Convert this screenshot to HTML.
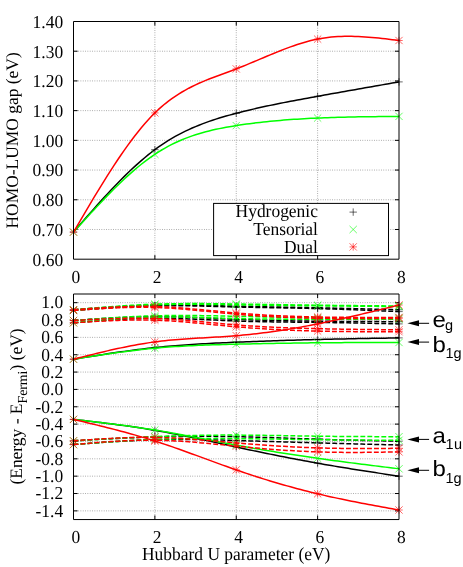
<!DOCTYPE html>
<html><head><meta charset="utf-8"><title>chart</title>
<style>html,body{margin:0;padding:0;background:#fff}body{width:463px;height:567px;overflow:hidden;font-family:"Liberation Serif",serif}.s{font-family:"Liberation Serif",serif;text-rendering:geometricPrecision}.a{font-family:"Liberation Sans",sans-serif;text-rendering:geometricPrecision}</style></head>
<body>
<svg width="463" height="567" viewBox="0 0 463 567" style="display:block">
<rect width="100%" height="100%" fill="#fff"/>
<path d="M154.88 259.20V21.50" stroke="#000" stroke-opacity="0.82" stroke-width="0.5" stroke-dasharray="0.78 1.55" fill="none"/>
<path d="M236.25 259.20V21.50" stroke="#000" stroke-opacity="0.82" stroke-width="0.5" stroke-dasharray="0.78 1.55" fill="none"/>
<path d="M317.62 259.20V21.50" stroke="#000" stroke-opacity="0.82" stroke-width="0.5" stroke-dasharray="0.78 1.55" fill="none"/>
<path d="M73.50 51.21H399.00" stroke="#000" stroke-opacity="0.82" stroke-width="0.5" stroke-dasharray="0.78 1.55" fill="none"/>
<path d="M73.50 80.92H399.00" stroke="#000" stroke-opacity="0.82" stroke-width="0.5" stroke-dasharray="0.78 1.55" fill="none"/>
<path d="M73.50 110.64H399.00" stroke="#000" stroke-opacity="0.82" stroke-width="0.5" stroke-dasharray="0.78 1.55" fill="none"/>
<path d="M73.50 140.35H399.00" stroke="#000" stroke-opacity="0.82" stroke-width="0.5" stroke-dasharray="0.78 1.55" fill="none"/>
<path d="M73.50 170.06H399.00" stroke="#000" stroke-opacity="0.82" stroke-width="0.5" stroke-dasharray="0.78 1.55" fill="none"/>
<path d="M73.50 199.77H399.00" stroke="#000" stroke-opacity="0.82" stroke-width="0.5" stroke-dasharray="0.78 1.55" fill="none"/>
<path d="M73.50 229.49H399.00" stroke="#000" stroke-opacity="0.82" stroke-width="0.5" stroke-dasharray="0.78 1.55" fill="none"/>
<path d="M154.88 259.20v-4.10M154.88 21.50v4.10M236.25 259.20v-4.10M236.25 21.50v4.10M317.62 259.20v-4.10M317.62 21.50v4.10M73.50 51.21h4.10M399.00 51.21h-4.10M73.50 80.92h4.10M399.00 80.92h-4.10M73.50 110.64h4.10M399.00 110.64h-4.10M73.50 140.35h4.10M399.00 140.35h-4.10M73.50 170.06h4.10M399.00 170.06h-4.10M73.50 199.77h4.10M399.00 199.77h-4.10M73.50 229.49h4.10M399.00 229.49h-4.10" stroke="#000" stroke-width="1" fill="none"/>
<path d="M73.50 232.10 L76.89 228.21 L80.28 224.32 L83.67 220.44 L87.06 216.57 L90.45 212.73 L93.84 208.91 L97.23 205.11 L100.62 201.35 L104.02 197.63 L107.41 193.95 L110.80 190.32 L114.19 186.75 L117.58 183.22 L120.97 179.77 L124.36 176.37 L127.75 173.05 L131.14 169.81 L134.53 166.65 L137.92 163.57 L141.31 160.59 L144.70 157.70 L148.09 154.91 L151.48 152.22 L154.88 149.65 L158.27 147.19 L161.66 144.84 L165.05 142.60 L168.44 140.46 L171.83 138.41 L175.22 136.47 L178.61 134.61 L182.00 132.85 L185.39 131.16 L188.78 129.56 L192.17 128.03 L195.56 126.58 L198.95 125.19 L202.34 123.86 L205.73 122.60 L209.12 121.39 L212.52 120.24 L215.91 119.13 L219.30 118.07 L222.69 117.05 L226.08 116.07 L229.47 115.12 L232.86 114.20 L236.25 113.30 L239.64 112.43 L243.03 111.57 L246.42 110.74 L249.81 109.92 L253.20 109.13 L256.59 108.35 L259.98 107.58 L263.38 106.83 L266.77 106.10 L270.16 105.38 L273.55 104.67 L276.94 103.98 L280.33 103.30 L283.72 102.62 L287.11 101.96 L290.50 101.31 L293.89 100.66 L297.28 100.02 L300.67 99.39 L304.06 98.77 L307.45 98.14 L310.84 97.53 L314.23 96.91 L317.62 96.30 L321.02 95.69 L324.41 95.08 L327.80 94.47 L331.19 93.86 L334.58 93.26 L337.97 92.65 L341.36 92.05 L344.75 91.45 L348.14 90.85 L351.53 90.25 L354.92 89.65 L358.31 89.05 L361.70 88.45 L365.09 87.85 L368.48 87.26 L371.88 86.66 L375.27 86.06 L378.66 85.47 L382.05 84.87 L385.44 84.28 L388.83 83.68 L392.22 83.09 L395.61 82.49 L399.00 81.90" stroke="#000" stroke-width="1.50" fill="none" stroke-linejoin="round"/>
<path d="M69.80 232.10H77.20M73.50 228.40V235.80" stroke="#000" stroke-width="0.60" fill="none"/>
<path d="M151.18 149.65H158.57M154.88 145.95V153.35" stroke="#000" stroke-width="0.60" fill="none"/>
<path d="M232.55 113.30H239.95M236.25 109.60V117.00" stroke="#000" stroke-width="0.60" fill="none"/>
<path d="M313.93 96.30H321.32M317.62 92.60V100.00" stroke="#000" stroke-width="0.60" fill="none"/>
<path d="M395.30 81.90H402.70M399.00 78.20V85.60" stroke="#000" stroke-width="0.60" fill="none"/>
<path d="M73.50 232.10 L76.89 228.37 L80.28 224.64 L83.67 220.93 L87.06 217.23 L90.45 213.55 L93.84 209.90 L97.23 206.27 L100.62 202.69 L104.02 199.14 L107.41 195.64 L110.80 192.19 L114.19 188.80 L117.58 185.46 L120.97 182.20 L124.36 179.00 L127.75 175.88 L131.14 172.85 L134.53 169.90 L137.92 167.04 L141.31 164.28 L144.70 161.62 L148.09 159.06 L151.48 156.62 L154.88 154.30 L158.27 152.10 L161.66 150.01 L165.05 148.04 L168.44 146.18 L171.83 144.43 L175.22 142.78 L178.61 141.22 L182.00 139.76 L185.39 138.38 L188.78 137.09 L192.17 135.88 L195.56 134.75 L198.95 133.69 L202.34 132.70 L205.73 131.77 L209.12 130.90 L212.52 130.09 L215.91 129.33 L219.30 128.61 L222.69 127.94 L226.08 127.31 L229.47 126.71 L232.86 126.14 L236.25 125.60 L239.64 125.08 L243.03 124.58 L246.42 124.11 L249.81 123.65 L253.20 123.21 L256.59 122.80 L259.98 122.40 L263.38 122.02 L266.77 121.66 L270.16 121.31 L273.55 120.99 L276.94 120.68 L280.33 120.38 L283.72 120.10 L287.11 119.84 L290.50 119.59 L293.89 119.35 L297.28 119.13 L300.67 118.92 L304.06 118.72 L307.45 118.54 L310.84 118.37 L314.23 118.20 L317.62 118.05 L321.02 117.91 L324.41 117.77 L327.80 117.65 L331.19 117.53 L334.58 117.43 L337.97 117.33 L341.36 117.23 L344.75 117.15 L348.14 117.07 L351.53 117.00 L354.92 116.93 L358.31 116.87 L361.70 116.81 L365.09 116.76 L368.48 116.71 L371.88 116.67 L375.27 116.63 L378.66 116.59 L382.05 116.56 L385.44 116.52 L388.83 116.49 L392.22 116.46 L395.61 116.43 L399.00 116.40" stroke="#00ff00" stroke-width="1.50" fill="none" stroke-linejoin="round"/>
<path d="M69.86 228.46L77.14 235.74M69.86 235.74L77.14 228.46" stroke="#00ff00" stroke-width="0.60" fill="none"/>
<path d="M151.23 150.66L158.52 157.94M151.23 157.94L158.52 150.66" stroke="#00ff00" stroke-width="0.60" fill="none"/>
<path d="M232.61 121.96L239.89 129.24M232.61 129.24L239.89 121.96" stroke="#00ff00" stroke-width="0.60" fill="none"/>
<path d="M313.98 114.41L321.27 121.69M313.98 121.69L321.27 114.41" stroke="#00ff00" stroke-width="0.60" fill="none"/>
<path d="M395.36 112.76L402.64 120.04M395.36 120.04L402.64 112.76" stroke="#00ff00" stroke-width="0.60" fill="none"/>
<path d="M73.50 232.10 L76.89 226.31 L80.28 220.54 L83.67 214.78 L87.06 209.04 L90.45 203.34 L93.84 197.69 L97.23 192.08 L100.62 186.53 L104.02 181.06 L107.41 175.65 L110.80 170.34 L114.19 165.12 L117.58 160.00 L120.97 154.99 L124.36 150.10 L127.75 145.34 L131.14 140.72 L134.53 136.24 L137.92 131.92 L141.31 127.75 L144.70 123.76 L148.09 119.95 L151.48 116.33 L154.88 112.90 L158.27 109.67 L161.66 106.64 L165.05 103.80 L168.44 101.13 L171.83 98.62 L175.22 96.27 L178.61 94.06 L182.00 91.99 L185.39 90.04 L188.78 88.21 L192.17 86.48 L195.56 84.85 L198.95 83.30 L202.34 81.82 L205.73 80.41 L209.12 79.05 L212.52 77.73 L215.91 76.45 L219.30 75.19 L222.69 73.95 L226.08 72.70 L229.47 71.46 L232.86 70.19 L236.25 68.90 L239.64 67.57 L243.03 66.22 L246.42 64.83 L249.81 63.43 L253.20 62.01 L256.59 60.58 L259.98 59.14 L263.38 57.71 L266.77 56.28 L270.16 54.86 L273.55 53.45 L276.94 52.07 L280.33 50.72 L283.72 49.39 L287.11 48.11 L290.50 46.87 L293.89 45.67 L297.28 44.53 L300.67 43.45 L304.06 42.43 L307.45 41.48 L310.84 40.60 L314.23 39.81 L317.62 39.10 L321.02 38.48 L324.41 37.94 L327.80 37.49 L331.19 37.12 L334.58 36.83 L337.97 36.60 L341.36 36.44 L344.75 36.35 L348.14 36.32 L351.53 36.34 L354.92 36.42 L358.31 36.54 L361.70 36.71 L365.09 36.93 L368.48 37.18 L371.88 37.46 L375.27 37.77 L378.66 38.11 L382.05 38.48 L385.44 38.86 L388.83 39.26 L392.22 39.66 L395.61 40.08 L399.00 40.50" stroke="#ff0000" stroke-width="1.50" fill="none" stroke-linejoin="round"/>
<path d="M69.80 232.10H77.20M73.50 228.40V235.80M69.86 228.46L77.14 235.74M69.86 235.74L77.14 228.46" stroke="#ff0000" stroke-width="0.60" fill="none"/>
<path d="M151.18 112.90H158.57M154.88 109.20V116.60M151.23 109.26L158.52 116.54M151.23 116.54L158.52 109.26" stroke="#ff0000" stroke-width="0.60" fill="none"/>
<path d="M232.55 68.90H239.95M236.25 65.20V72.60M232.61 65.26L239.89 72.54M232.61 72.54L239.89 65.26" stroke="#ff0000" stroke-width="0.60" fill="none"/>
<path d="M313.93 39.10H321.32M317.62 35.40V42.80M313.98 35.46L321.27 42.74M313.98 42.74L321.27 35.46" stroke="#ff0000" stroke-width="0.60" fill="none"/>
<path d="M395.30 40.50H402.70M399.00 36.80V44.20M395.36 36.86L402.64 44.14M395.36 44.14L402.64 36.86" stroke="#ff0000" stroke-width="0.60" fill="none"/>
<path d="M73.50 21.50H399.00V259.20H73.50Z" stroke="#000" stroke-width="1" fill="none"/>
<rect x="213.6" y="203.4" width="174.9" height="52.2" fill="#fff" stroke="#000" stroke-width="1"/>
<path d="M349.50 212.10H356.90M353.20 208.40V215.80" stroke="#000" stroke-width="0.60" fill="none"/>
<path d="M349.56 225.86L356.84 233.14M349.56 233.14L356.84 225.86" stroke="#00ff00" stroke-width="0.60" fill="none"/>
<path d="M349.50 246.90H356.90M353.20 243.20V250.60M349.56 243.26L356.84 250.54M349.56 250.54L356.84 243.26" stroke="#ff0000" stroke-width="0.60" fill="none"/>
<path d="M154.88 519.55V294.00" stroke="#000" stroke-opacity="0.82" stroke-width="0.5" stroke-dasharray="0.78 1.55" fill="none"/>
<path d="M236.25 519.55V294.00" stroke="#000" stroke-opacity="0.82" stroke-width="0.5" stroke-dasharray="0.78 1.55" fill="none"/>
<path d="M317.62 519.55V294.00" stroke="#000" stroke-opacity="0.82" stroke-width="0.5" stroke-dasharray="0.78 1.55" fill="none"/>
<path d="M73.50 302.67H399.00" stroke="#000" stroke-opacity="0.82" stroke-width="0.5" stroke-dasharray="0.78 1.55" fill="none"/>
<path d="M73.50 320.02H399.00" stroke="#000" stroke-opacity="0.82" stroke-width="0.5" stroke-dasharray="0.78 1.55" fill="none"/>
<path d="M73.50 337.37H399.00" stroke="#000" stroke-opacity="0.82" stroke-width="0.5" stroke-dasharray="0.78 1.55" fill="none"/>
<path d="M73.50 354.72H399.00" stroke="#000" stroke-opacity="0.82" stroke-width="0.5" stroke-dasharray="0.78 1.55" fill="none"/>
<path d="M73.50 372.07H399.00" stroke="#000" stroke-opacity="0.82" stroke-width="0.5" stroke-dasharray="0.78 1.55" fill="none"/>
<path d="M73.50 389.42H399.00" stroke="#000" stroke-opacity="0.82" stroke-width="0.5" stroke-dasharray="0.78 1.55" fill="none"/>
<path d="M73.50 406.77H399.00" stroke="#000" stroke-opacity="0.82" stroke-width="0.5" stroke-dasharray="0.78 1.55" fill="none"/>
<path d="M73.50 424.12H399.00" stroke="#000" stroke-opacity="0.82" stroke-width="0.5" stroke-dasharray="0.78 1.55" fill="none"/>
<path d="M73.50 441.47H399.00" stroke="#000" stroke-opacity="0.82" stroke-width="0.5" stroke-dasharray="0.78 1.55" fill="none"/>
<path d="M73.50 458.82H399.00" stroke="#000" stroke-opacity="0.82" stroke-width="0.5" stroke-dasharray="0.78 1.55" fill="none"/>
<path d="M73.50 476.17H399.00" stroke="#000" stroke-opacity="0.82" stroke-width="0.5" stroke-dasharray="0.78 1.55" fill="none"/>
<path d="M73.50 493.52H399.00" stroke="#000" stroke-opacity="0.82" stroke-width="0.5" stroke-dasharray="0.78 1.55" fill="none"/>
<path d="M73.50 510.87H399.00" stroke="#000" stroke-opacity="0.82" stroke-width="0.5" stroke-dasharray="0.78 1.55" fill="none"/>
<path d="M154.88 519.55v-4.10M154.88 294.00v4.10M236.25 519.55v-4.10M236.25 294.00v4.10M317.62 519.55v-4.10M317.62 294.00v4.10M73.50 302.67h4.10M399.00 302.67h-4.10M73.50 320.02h4.10M399.00 320.02h-4.10M73.50 337.37h4.10M399.00 337.37h-4.10M73.50 354.72h4.10M399.00 354.72h-4.10M73.50 372.07h4.10M399.00 372.07h-4.10M73.50 389.42h4.10M399.00 389.42h-4.10M73.50 406.77h4.10M399.00 406.77h-4.10M73.50 424.12h4.10M399.00 424.12h-4.10M73.50 441.47h4.10M399.00 441.47h-4.10M73.50 458.82h4.10M399.00 458.82h-4.10M73.50 476.17h4.10M399.00 476.17h-4.10M73.50 493.52h4.10M399.00 493.52h-4.10M73.50 510.87h4.10M399.00 510.87h-4.10" stroke="#000" stroke-width="1" fill="none"/>
<path d="M73.50 359.20 L76.89 358.65 L80.28 358.11 L83.67 357.57 L87.06 357.03 L90.45 356.49 L93.84 355.95 L97.23 355.42 L100.62 354.89 L104.02 354.37 L107.41 353.85 L110.80 353.34 L114.19 352.84 L117.58 352.35 L120.97 351.86 L124.36 351.38 L127.75 350.92 L131.14 350.46 L134.53 350.01 L137.92 349.58 L141.31 349.15 L144.70 348.74 L148.09 348.35 L151.48 347.97 L154.88 347.60 L158.27 347.25 L161.66 346.91 L165.05 346.59 L168.44 346.28 L171.83 345.99 L175.22 345.70 L178.61 345.43 L182.00 345.18 L185.39 344.93 L188.78 344.69 L192.17 344.47 L195.56 344.25 L198.95 344.04 L202.34 343.84 L205.73 343.65 L209.12 343.47 L212.52 343.29 L215.91 343.12 L219.30 342.95 L222.69 342.80 L226.08 342.64 L229.47 342.49 L232.86 342.34 L236.25 342.20 L239.64 342.06 L243.03 341.92 L246.42 341.79 L249.81 341.65 L253.20 341.52 L256.59 341.39 L259.98 341.27 L263.38 341.14 L266.77 341.02 L270.16 340.91 L273.55 340.79 L276.94 340.68 L280.33 340.57 L283.72 340.46 L287.11 340.35 L290.50 340.25 L293.89 340.15 L297.28 340.05 L300.67 339.95 L304.06 339.86 L307.45 339.76 L310.84 339.67 L314.23 339.59 L317.62 339.50 L321.02 339.42 L324.41 339.34 L327.80 339.26 L331.19 339.18 L334.58 339.10 L337.97 339.03 L341.36 338.96 L344.75 338.89 L348.14 338.82 L351.53 338.75 L354.92 338.69 L358.31 338.62 L361.70 338.56 L365.09 338.49 L368.48 338.43 L371.88 338.37 L375.27 338.31 L378.66 338.25 L382.05 338.19 L385.44 338.13 L388.83 338.07 L392.22 338.02 L395.61 337.96 L399.00 337.90" stroke="#000" stroke-width="1.50" fill="none" stroke-linejoin="round"/>
<path d="M69.80 359.20H77.20M73.50 355.50V362.90" stroke="#000" stroke-width="0.60" fill="none"/>
<path d="M151.18 347.60H158.57M154.88 343.90V351.30" stroke="#000" stroke-width="0.60" fill="none"/>
<path d="M232.55 342.20H239.95M236.25 338.50V345.90" stroke="#000" stroke-width="0.60" fill="none"/>
<path d="M313.93 339.50H321.32M317.62 335.80V343.20" stroke="#000" stroke-width="0.60" fill="none"/>
<path d="M395.30 337.90H402.70M399.00 334.20V341.60" stroke="#000" stroke-width="0.60" fill="none"/>
<path d="M73.50 419.40 L76.89 419.79 L80.28 420.18 L83.67 420.57 L87.06 420.97 L90.45 421.37 L93.84 421.77 L97.23 422.17 L100.62 422.58 L104.02 422.99 L107.41 423.41 L110.80 423.84 L114.19 424.28 L117.58 424.72 L120.97 425.17 L124.36 425.63 L127.75 426.10 L131.14 426.58 L134.53 427.07 L137.92 427.58 L141.31 428.09 L144.70 428.62 L148.09 429.17 L151.48 429.73 L154.88 430.30 L158.27 430.89 L161.66 431.49 L165.05 432.11 L168.44 432.75 L171.83 433.39 L175.22 434.05 L178.61 434.72 L182.00 435.40 L185.39 436.08 L188.78 436.78 L192.17 437.49 L195.56 438.20 L198.95 438.92 L202.34 439.64 L205.73 440.37 L209.12 441.10 L212.52 441.84 L215.91 442.57 L219.30 443.31 L222.69 444.05 L226.08 444.79 L229.47 445.53 L232.86 446.27 L236.25 447.00 L239.64 447.73 L243.03 448.46 L246.42 449.18 L249.81 449.90 L253.20 450.62 L256.59 451.33 L259.98 452.03 L263.38 452.73 L266.77 453.43 L270.16 454.12 L273.55 454.81 L276.94 455.49 L280.33 456.17 L283.72 456.84 L287.11 457.50 L290.50 458.16 L293.89 458.82 L297.28 459.46 L300.67 460.10 L304.06 460.74 L307.45 461.36 L310.84 461.98 L314.23 462.59 L317.62 463.20 L321.02 463.80 L324.41 464.39 L327.80 464.97 L331.19 465.55 L334.58 466.12 L337.97 466.69 L341.36 467.25 L344.75 467.80 L348.14 468.35 L351.53 468.89 L354.92 469.43 L358.31 469.97 L361.70 470.50 L365.09 471.03 L368.48 471.56 L371.88 472.08 L375.27 472.60 L378.66 473.12 L382.05 473.63 L385.44 474.15 L388.83 474.66 L392.22 475.18 L395.61 475.69 L399.00 476.20" stroke="#000" stroke-width="1.50" fill="none" stroke-linejoin="round"/>
<path d="M69.80 419.40H77.20M73.50 415.70V423.10" stroke="#000" stroke-width="0.60" fill="none"/>
<path d="M151.18 430.30H158.57M154.88 426.60V434.00" stroke="#000" stroke-width="0.60" fill="none"/>
<path d="M232.55 447.00H239.95M236.25 443.30V450.70" stroke="#000" stroke-width="0.60" fill="none"/>
<path d="M313.93 463.20H321.32M317.62 459.50V466.90" stroke="#000" stroke-width="0.60" fill="none"/>
<path d="M395.30 476.20H402.70M399.00 472.50V479.90" stroke="#000" stroke-width="0.60" fill="none"/>
<path d="M73.50 309.70 L76.89 309.45 L80.28 309.21 L83.67 308.96 L87.06 308.72 L90.45 308.48 L93.84 308.24 L97.23 308.00 L100.62 307.77 L104.02 307.55 L107.41 307.33 L110.80 307.12 L114.19 306.91 L117.58 306.71 L120.97 306.52 L124.36 306.34 L127.75 306.17 L131.14 306.01 L134.53 305.85 L137.92 305.71 L141.31 305.58 L144.70 305.47 L148.09 305.36 L151.48 305.28 L154.88 305.20 L158.27 305.14 L161.66 305.09 L165.05 305.06 L168.44 305.04 L171.83 305.03 L175.22 305.04 L178.61 305.05 L182.00 305.07 L185.39 305.11 L188.78 305.15 L192.17 305.20 L195.56 305.25 L198.95 305.32 L202.34 305.38 L205.73 305.46 L209.12 305.53 L212.52 305.61 L215.91 305.70 L219.30 305.78 L222.69 305.86 L226.08 305.95 L229.47 306.03 L232.86 306.12 L236.25 306.20 L239.64 306.28 L243.03 306.36 L246.42 306.43 L249.81 306.50 L253.20 306.57 L256.59 306.64 L259.98 306.71 L263.38 306.78 L266.77 306.84 L270.16 306.91 L273.55 306.97 L276.94 307.03 L280.33 307.09 L283.72 307.16 L287.11 307.22 L290.50 307.28 L293.89 307.34 L297.28 307.41 L300.67 307.47 L304.06 307.53 L307.45 307.60 L310.84 307.66 L314.23 307.73 L317.62 307.80 L321.02 307.87 L324.41 307.94 L327.80 308.02 L331.19 308.09 L334.58 308.17 L337.97 308.25 L341.36 308.33 L344.75 308.41 L348.14 308.49 L351.53 308.57 L354.92 308.65 L358.31 308.74 L361.70 308.82 L365.09 308.91 L368.48 309.00 L371.88 309.09 L375.27 309.17 L378.66 309.26 L382.05 309.35 L385.44 309.44 L388.83 309.53 L392.22 309.62 L395.61 309.71 L399.00 309.80" stroke="#000" stroke-width="1.50" fill="none" stroke-dasharray="4.9 2.1"/>
<path d="M69.80 309.70H77.20M73.50 306.00V313.40" stroke="#000" stroke-width="0.60" fill="none"/>
<path d="M151.18 305.20H158.57M154.88 301.50V308.90" stroke="#000" stroke-width="0.60" fill="none"/>
<path d="M232.55 306.20H239.95M236.25 302.50V309.90" stroke="#000" stroke-width="0.60" fill="none"/>
<path d="M313.93 307.80H321.32M317.62 304.10V311.50" stroke="#000" stroke-width="0.60" fill="none"/>
<path d="M395.30 309.80H402.70M399.00 306.10V313.50" stroke="#000" stroke-width="0.60" fill="none"/>
<path d="M73.50 310.50 L76.89 310.24 L80.28 309.98 L83.67 309.72 L87.06 309.46 L90.45 309.21 L93.84 308.96 L97.23 308.71 L100.62 308.47 L104.02 308.23 L107.41 308.00 L110.80 307.77 L114.19 307.56 L117.58 307.35 L120.97 307.15 L124.36 306.96 L127.75 306.78 L131.14 306.61 L134.53 306.46 L137.92 306.31 L141.31 306.18 L144.70 306.06 L148.09 305.96 L151.48 305.87 L154.88 305.80 L158.27 305.74 L161.66 305.70 L165.05 305.68 L168.44 305.66 L171.83 305.67 L175.22 305.68 L178.61 305.70 L182.00 305.74 L185.39 305.78 L188.78 305.83 L192.17 305.89 L195.56 305.96 L198.95 306.03 L202.34 306.11 L205.73 306.20 L209.12 306.28 L212.52 306.37 L215.91 306.46 L219.30 306.56 L222.69 306.65 L226.08 306.74 L229.47 306.83 L232.86 306.92 L236.25 307.00 L239.64 307.08 L243.03 307.16 L246.42 307.23 L249.81 307.30 L253.20 307.36 L256.59 307.43 L259.98 307.49 L263.38 307.55 L266.77 307.61 L270.16 307.67 L273.55 307.73 L276.94 307.78 L280.33 307.84 L283.72 307.90 L287.11 307.96 L290.50 308.02 L293.89 308.08 L297.28 308.15 L300.67 308.21 L304.06 308.28 L307.45 308.36 L310.84 308.43 L314.23 308.51 L317.62 308.60 L321.02 308.69 L324.41 308.78 L327.80 308.88 L331.19 308.98 L334.58 309.09 L337.97 309.20 L341.36 309.32 L344.75 309.43 L348.14 309.55 L351.53 309.68 L354.92 309.80 L358.31 309.93 L361.70 310.06 L365.09 310.19 L368.48 310.33 L371.88 310.47 L375.27 310.60 L378.66 310.74 L382.05 310.88 L385.44 311.03 L388.83 311.17 L392.22 311.31 L395.61 311.46 L399.00 311.60" stroke="#000" stroke-width="1.50" fill="none" stroke-dasharray="4.9 2.1"/>
<path d="M69.80 310.50H77.20M73.50 306.80V314.20" stroke="#000" stroke-width="0.60" fill="none"/>
<path d="M151.18 305.80H158.57M154.88 302.10V309.50" stroke="#000" stroke-width="0.60" fill="none"/>
<path d="M232.55 307.00H239.95M236.25 303.30V310.70" stroke="#000" stroke-width="0.60" fill="none"/>
<path d="M313.93 308.60H321.32M317.62 304.90V312.30" stroke="#000" stroke-width="0.60" fill="none"/>
<path d="M395.30 311.60H402.70M399.00 307.90V315.30" stroke="#000" stroke-width="0.60" fill="none"/>
<path d="M73.50 320.50 L76.89 320.26 L80.28 320.03 L83.67 319.79 L87.06 319.56 L90.45 319.33 L93.84 319.10 L97.23 318.88 L100.62 318.67 L104.02 318.46 L107.41 318.26 L110.80 318.06 L114.19 317.88 L117.58 317.70 L120.97 317.53 L124.36 317.38 L127.75 317.23 L131.14 317.10 L134.53 316.98 L137.92 316.88 L141.31 316.79 L144.70 316.72 L148.09 316.66 L151.48 316.62 L154.88 316.60 L158.27 316.60 L161.66 316.61 L165.05 316.64 L168.44 316.69 L171.83 316.75 L175.22 316.83 L178.61 316.91 L182.00 317.01 L185.39 317.12 L188.78 317.24 L192.17 317.37 L195.56 317.50 L198.95 317.64 L202.34 317.79 L205.73 317.94 L209.12 318.09 L212.52 318.24 L215.91 318.40 L219.30 318.56 L222.69 318.71 L226.08 318.86 L229.47 319.01 L232.86 319.16 L236.25 319.30 L239.64 319.43 L243.03 319.56 L246.42 319.69 L249.81 319.80 L253.20 319.91 L256.59 320.02 L259.98 320.12 L263.38 320.21 L266.77 320.31 L270.16 320.39 L273.55 320.47 L276.94 320.55 L280.33 320.62 L283.72 320.69 L287.11 320.76 L290.50 320.82 L293.89 320.88 L297.28 320.93 L300.67 320.98 L304.06 321.03 L307.45 321.08 L310.84 321.12 L314.23 321.16 L317.62 321.20 L321.02 321.24 L324.41 321.27 L327.80 321.30 L331.19 321.33 L334.58 321.36 L337.97 321.39 L341.36 321.42 L344.75 321.44 L348.14 321.46 L351.53 321.49 L354.92 321.51 L358.31 321.52 L361.70 321.54 L365.09 321.56 L368.48 321.58 L371.88 321.59 L375.27 321.61 L378.66 321.62 L382.05 321.64 L385.44 321.65 L388.83 321.66 L392.22 321.67 L395.61 321.69 L399.00 321.70" stroke="#000" stroke-width="1.50" fill="none" stroke-dasharray="4.9 2.1"/>
<path d="M69.80 320.50H77.20M73.50 316.80V324.20" stroke="#000" stroke-width="0.60" fill="none"/>
<path d="M151.18 316.60H158.57M154.88 312.90V320.30" stroke="#000" stroke-width="0.60" fill="none"/>
<path d="M232.55 319.30H239.95M236.25 315.60V323.00" stroke="#000" stroke-width="0.60" fill="none"/>
<path d="M313.93 321.20H321.32M317.62 317.50V324.90" stroke="#000" stroke-width="0.60" fill="none"/>
<path d="M395.30 321.70H402.70M399.00 318.00V325.40" stroke="#000" stroke-width="0.60" fill="none"/>
<path d="M73.50 322.80 L76.89 322.52 L80.28 322.24 L83.67 321.97 L87.06 321.70 L90.45 321.43 L93.84 321.16 L97.23 320.90 L100.62 320.65 L104.02 320.40 L107.41 320.17 L110.80 319.94 L114.19 319.72 L117.58 319.51 L120.97 319.31 L124.36 319.13 L127.75 318.96 L131.14 318.81 L134.53 318.67 L137.92 318.54 L141.31 318.44 L144.70 318.35 L148.09 318.28 L151.48 318.23 L154.88 318.20 L158.27 318.19 L161.66 318.21 L165.05 318.24 L168.44 318.29 L171.83 318.35 L175.22 318.44 L178.61 318.53 L182.00 318.64 L185.39 318.76 L188.78 318.89 L192.17 319.02 L195.56 319.17 L198.95 319.32 L202.34 319.48 L205.73 319.63 L209.12 319.80 L212.52 319.96 L215.91 320.12 L219.30 320.28 L222.69 320.43 L226.08 320.59 L229.47 320.73 L232.86 320.87 L236.25 321.00 L239.64 321.12 L243.03 321.23 L246.42 321.34 L249.81 321.43 L253.20 321.52 L256.59 321.60 L259.98 321.67 L263.38 321.74 L266.77 321.80 L270.16 321.85 L273.55 321.91 L276.94 321.95 L280.33 322.00 L283.72 322.04 L287.11 322.08 L290.50 322.11 L293.89 322.15 L297.28 322.18 L300.67 322.22 L304.06 322.25 L307.45 322.29 L310.84 322.32 L314.23 322.36 L317.62 322.40 L321.02 322.44 L324.41 322.49 L327.80 322.53 L331.19 322.58 L334.58 322.64 L337.97 322.69 L341.36 322.75 L344.75 322.80 L348.14 322.86 L351.53 322.93 L354.92 322.99 L358.31 323.05 L361.70 323.12 L365.09 323.19 L368.48 323.25 L371.88 323.32 L375.27 323.39 L378.66 323.46 L382.05 323.54 L385.44 323.61 L388.83 323.68 L392.22 323.75 L395.61 323.83 L399.00 323.90" stroke="#000" stroke-width="1.50" fill="none" stroke-dasharray="4.9 2.1"/>
<path d="M69.80 322.80H77.20M73.50 319.10V326.50" stroke="#000" stroke-width="0.60" fill="none"/>
<path d="M151.18 318.20H158.57M154.88 314.50V321.90" stroke="#000" stroke-width="0.60" fill="none"/>
<path d="M232.55 321.00H239.95M236.25 317.30V324.70" stroke="#000" stroke-width="0.60" fill="none"/>
<path d="M313.93 322.40H321.32M317.62 318.70V326.10" stroke="#000" stroke-width="0.60" fill="none"/>
<path d="M395.30 323.90H402.70M399.00 320.20V327.60" stroke="#000" stroke-width="0.60" fill="none"/>
<path d="M73.50 440.80 L76.89 440.60 L80.28 440.41 L83.67 440.22 L87.06 440.02 L90.45 439.83 L93.84 439.64 L97.23 439.45 L100.62 439.27 L104.02 439.08 L107.41 438.90 L110.80 438.73 L114.19 438.55 L117.58 438.39 L120.97 438.22 L124.36 438.06 L127.75 437.91 L131.14 437.76 L134.53 437.62 L137.92 437.48 L141.31 437.35 L144.70 437.23 L148.09 437.11 L151.48 437.00 L154.88 436.90 L158.27 436.81 L161.66 436.72 L165.05 436.65 L168.44 436.58 L171.83 436.52 L175.22 436.46 L178.61 436.42 L182.00 436.38 L185.39 436.35 L188.78 436.33 L192.17 436.31 L195.56 436.30 L198.95 436.30 L202.34 436.30 L205.73 436.31 L209.12 436.33 L212.52 436.36 L215.91 436.39 L219.30 436.42 L222.69 436.47 L226.08 436.52 L229.47 436.57 L232.86 436.63 L236.25 436.70 L239.64 436.77 L243.03 436.85 L246.42 436.93 L249.81 437.02 L253.20 437.11 L256.59 437.21 L259.98 437.31 L263.38 437.41 L266.77 437.51 L270.16 437.62 L273.55 437.73 L276.94 437.84 L280.33 437.96 L283.72 438.07 L287.11 438.19 L290.50 438.30 L293.89 438.42 L297.28 438.53 L300.67 438.65 L304.06 438.76 L307.45 438.87 L310.84 438.98 L314.23 439.09 L317.62 439.20 L321.02 439.30 L324.41 439.40 L327.80 439.50 L331.19 439.60 L334.58 439.69 L337.97 439.79 L341.36 439.88 L344.75 439.96 L348.14 440.05 L351.53 440.13 L354.92 440.22 L358.31 440.30 L361.70 440.38 L365.09 440.46 L368.48 440.53 L371.88 440.61 L375.27 440.69 L378.66 440.76 L382.05 440.84 L385.44 440.91 L388.83 440.98 L392.22 441.05 L395.61 441.13 L399.00 441.20" stroke="#000" stroke-width="1.50" fill="none" stroke-dasharray="4.9 2.1"/>
<path d="M69.80 440.80H77.20M73.50 437.10V444.50" stroke="#000" stroke-width="0.60" fill="none"/>
<path d="M151.18 436.90H158.57M154.88 433.20V440.60" stroke="#000" stroke-width="0.60" fill="none"/>
<path d="M232.55 436.70H239.95M236.25 433.00V440.40" stroke="#000" stroke-width="0.60" fill="none"/>
<path d="M313.93 439.20H321.32M317.62 435.50V442.90" stroke="#000" stroke-width="0.60" fill="none"/>
<path d="M395.30 441.20H402.70M399.00 437.50V444.90" stroke="#000" stroke-width="0.60" fill="none"/>
<path d="M73.50 444.60 L76.89 444.34 L80.28 444.08 L83.67 443.81 L87.06 443.56 L90.45 443.30 L93.84 443.05 L97.23 442.80 L100.62 442.55 L104.02 442.31 L107.41 442.07 L110.80 441.84 L114.19 441.62 L117.58 441.41 L120.97 441.20 L124.36 441.00 L127.75 440.81 L131.14 440.63 L134.53 440.46 L137.92 440.31 L141.31 440.16 L144.70 440.02 L148.09 439.90 L151.48 439.79 L154.88 439.70 L158.27 439.62 L161.66 439.55 L165.05 439.50 L168.44 439.46 L171.83 439.44 L175.22 439.42 L178.61 439.42 L182.00 439.42 L185.39 439.44 L188.78 439.47 L192.17 439.50 L195.56 439.55 L198.95 439.60 L202.34 439.65 L205.73 439.72 L209.12 439.79 L212.52 439.87 L215.91 439.95 L219.30 440.03 L222.69 440.12 L226.08 440.21 L229.47 440.31 L232.86 440.40 L236.25 440.50 L239.64 440.60 L243.03 440.70 L246.42 440.80 L249.81 440.90 L253.20 441.00 L256.59 441.10 L259.98 441.20 L263.38 441.30 L266.77 441.40 L270.16 441.50 L273.55 441.61 L276.94 441.71 L280.33 441.81 L283.72 441.91 L287.11 442.01 L290.50 442.11 L293.89 442.21 L297.28 442.31 L300.67 442.41 L304.06 442.51 L307.45 442.61 L310.84 442.71 L314.23 442.80 L317.62 442.90 L321.02 442.99 L324.41 443.09 L327.80 443.18 L331.19 443.27 L334.58 443.36 L337.97 443.46 L341.36 443.55 L344.75 443.63 L348.14 443.72 L351.53 443.81 L354.92 443.90 L358.31 443.98 L361.70 444.07 L365.09 444.16 L368.48 444.24 L371.88 444.33 L375.27 444.41 L378.66 444.50 L382.05 444.58 L385.44 444.67 L388.83 444.75 L392.22 444.83 L395.61 444.92 L399.00 445.00" stroke="#000" stroke-width="1.50" fill="none" stroke-dasharray="4.9 2.1"/>
<path d="M69.80 444.60H77.20M73.50 440.90V448.30" stroke="#000" stroke-width="0.60" fill="none"/>
<path d="M151.18 439.70H158.57M154.88 436.00V443.40" stroke="#000" stroke-width="0.60" fill="none"/>
<path d="M232.55 440.50H239.95M236.25 436.80V444.20" stroke="#000" stroke-width="0.60" fill="none"/>
<path d="M313.93 442.90H321.32M317.62 439.20V446.60" stroke="#000" stroke-width="0.60" fill="none"/>
<path d="M395.30 445.00H402.70M399.00 441.30V448.70" stroke="#000" stroke-width="0.60" fill="none"/>
<path d="M73.50 359.20 L76.89 358.67 L80.28 358.14 L83.67 357.61 L87.06 357.09 L90.45 356.57 L93.84 356.05 L97.23 355.54 L100.62 355.03 L104.02 354.52 L107.41 354.03 L110.80 353.54 L114.19 353.06 L117.58 352.59 L120.97 352.13 L124.36 351.67 L127.75 351.23 L131.14 350.81 L134.53 350.39 L137.92 349.99 L141.31 349.60 L144.70 349.22 L148.09 348.87 L151.48 348.52 L154.88 348.20 L158.27 347.89 L161.66 347.60 L165.05 347.33 L168.44 347.07 L171.83 346.83 L175.22 346.60 L178.61 346.39 L182.00 346.19 L185.39 346.00 L188.78 345.82 L192.17 345.65 L195.56 345.50 L198.95 345.35 L202.34 345.22 L205.73 345.09 L209.12 344.97 L212.52 344.85 L215.91 344.75 L219.30 344.64 L222.69 344.55 L226.08 344.46 L229.47 344.37 L232.86 344.28 L236.25 344.20 L239.64 344.12 L243.03 344.04 L246.42 343.96 L249.81 343.89 L253.20 343.81 L256.59 343.74 L259.98 343.67 L263.38 343.60 L266.77 343.54 L270.16 343.47 L273.55 343.41 L276.94 343.35 L280.33 343.29 L283.72 343.24 L287.11 343.18 L290.50 343.13 L293.89 343.08 L297.28 343.03 L300.67 342.99 L304.06 342.95 L307.45 342.91 L310.84 342.87 L314.23 342.83 L317.62 342.80 L321.02 342.77 L324.41 342.74 L327.80 342.71 L331.19 342.69 L334.58 342.67 L337.97 342.65 L341.36 342.63 L344.75 342.61 L348.14 342.60 L351.53 342.58 L354.92 342.57 L358.31 342.56 L361.70 342.55 L365.09 342.54 L368.48 342.54 L371.88 342.53 L375.27 342.53 L378.66 342.52 L382.05 342.52 L385.44 342.51 L388.83 342.51 L392.22 342.51 L395.61 342.50 L399.00 342.50" stroke="#00ff00" stroke-width="1.50" fill="none" stroke-linejoin="round"/>
<path d="M69.86 355.56L77.14 362.84M69.86 362.84L77.14 355.56" stroke="#00ff00" stroke-width="0.60" fill="none"/>
<path d="M151.23 344.56L158.52 351.84M151.23 351.84L158.52 344.56" stroke="#00ff00" stroke-width="0.60" fill="none"/>
<path d="M232.61 340.56L239.89 347.84M232.61 347.84L239.89 340.56" stroke="#00ff00" stroke-width="0.60" fill="none"/>
<path d="M313.98 339.16L321.27 346.44M313.98 346.44L321.27 339.16" stroke="#00ff00" stroke-width="0.60" fill="none"/>
<path d="M395.36 338.86L402.64 346.14M395.36 346.14L402.64 338.86" stroke="#00ff00" stroke-width="0.60" fill="none"/>
<path d="M73.50 419.40 L76.89 419.79 L80.28 420.18 L83.67 420.57 L87.06 420.96 L90.45 421.35 L93.84 421.75 L97.23 422.15 L100.62 422.55 L104.02 422.96 L107.41 423.37 L110.80 423.79 L114.19 424.22 L117.58 424.65 L120.97 425.09 L124.36 425.53 L127.75 425.99 L131.14 426.45 L134.53 426.93 L137.92 427.41 L141.31 427.90 L144.70 428.41 L148.09 428.93 L151.48 429.46 L154.88 430.00 L158.27 430.56 L161.66 431.12 L165.05 431.70 L168.44 432.30 L171.83 432.90 L175.22 433.51 L178.61 434.13 L182.00 434.75 L185.39 435.39 L188.78 436.03 L192.17 436.67 L195.56 437.32 L198.95 437.97 L202.34 438.62 L205.73 439.28 L209.12 439.93 L212.52 440.59 L215.91 441.24 L219.30 441.89 L222.69 442.54 L226.08 443.19 L229.47 443.83 L232.86 444.47 L236.25 445.10 L239.64 445.72 L243.03 446.34 L246.42 446.95 L249.81 447.55 L253.20 448.15 L256.59 448.74 L259.98 449.32 L263.38 449.90 L266.77 450.47 L270.16 451.03 L273.55 451.59 L276.94 452.14 L280.33 452.69 L283.72 453.23 L287.11 453.76 L290.50 454.29 L293.89 454.81 L297.28 455.32 L300.67 455.83 L304.06 456.34 L307.45 456.84 L310.84 457.33 L314.23 457.82 L317.62 458.30 L321.02 458.78 L324.41 459.25 L327.80 459.72 L331.19 460.18 L334.58 460.64 L337.97 461.09 L341.36 461.54 L344.75 461.99 L348.14 462.43 L351.53 462.87 L354.92 463.31 L358.31 463.74 L361.70 464.17 L365.09 464.60 L368.48 465.03 L371.88 465.45 L375.27 465.87 L378.66 466.29 L382.05 466.71 L385.44 467.13 L388.83 467.55 L392.22 467.97 L395.61 468.38 L399.00 468.80" stroke="#00ff00" stroke-width="1.50" fill="none" stroke-linejoin="round"/>
<path d="M69.86 415.76L77.14 423.04M69.86 423.04L77.14 415.76" stroke="#00ff00" stroke-width="0.60" fill="none"/>
<path d="M151.23 426.36L158.52 433.64M151.23 433.64L158.52 426.36" stroke="#00ff00" stroke-width="0.60" fill="none"/>
<path d="M232.61 441.46L239.89 448.74M232.61 448.74L239.89 441.46" stroke="#00ff00" stroke-width="0.60" fill="none"/>
<path d="M313.98 454.66L321.27 461.94M313.98 461.94L321.27 454.66" stroke="#00ff00" stroke-width="0.60" fill="none"/>
<path d="M395.36 465.16L402.64 472.44M395.36 472.44L402.64 465.16" stroke="#00ff00" stroke-width="0.60" fill="none"/>
<path d="M73.50 309.70 L76.89 309.42 L80.28 309.13 L83.67 308.85 L87.06 308.57 L90.45 308.29 L93.84 308.02 L97.23 307.75 L100.62 307.48 L104.02 307.21 L107.41 306.96 L110.80 306.70 L114.19 306.46 L117.58 306.22 L120.97 305.99 L124.36 305.76 L127.75 305.55 L131.14 305.34 L134.53 305.14 L137.92 304.96 L141.31 304.78 L144.70 304.62 L148.09 304.47 L151.48 304.33 L154.88 304.20 L158.27 304.09 L161.66 303.99 L165.05 303.90 L168.44 303.82 L171.83 303.76 L175.22 303.71 L178.61 303.67 L182.00 303.63 L185.39 303.61 L188.78 303.59 L192.17 303.59 L195.56 303.59 L198.95 303.60 L202.34 303.61 L205.73 303.63 L209.12 303.66 L212.52 303.69 L215.91 303.73 L219.30 303.77 L222.69 303.81 L226.08 303.85 L229.47 303.90 L232.86 303.95 L236.25 304.00 L239.64 304.05 L243.03 304.10 L246.42 304.15 L249.81 304.21 L253.20 304.26 L256.59 304.31 L259.98 304.36 L263.38 304.41 L266.77 304.47 L270.16 304.52 L273.55 304.57 L276.94 304.62 L280.33 304.67 L283.72 304.73 L287.11 304.78 L290.50 304.83 L293.89 304.88 L297.28 304.93 L300.67 304.97 L304.06 305.02 L307.45 305.07 L310.84 305.11 L314.23 305.16 L317.62 305.20 L321.02 305.24 L324.41 305.28 L327.80 305.32 L331.19 305.36 L334.58 305.40 L337.97 305.44 L341.36 305.47 L344.75 305.51 L348.14 305.54 L351.53 305.58 L354.92 305.61 L358.31 305.64 L361.70 305.67 L365.09 305.71 L368.48 305.74 L371.88 305.77 L375.27 305.80 L378.66 305.83 L382.05 305.86 L385.44 305.88 L388.83 305.91 L392.22 305.94 L395.61 305.97 L399.00 306.00" stroke="#00ff00" stroke-width="1.50" fill="none" stroke-dasharray="4.9 2.1"/>
<path d="M69.86 306.06L77.14 313.34M69.86 313.34L77.14 306.06" stroke="#00ff00" stroke-width="0.60" fill="none"/>
<path d="M151.23 300.56L158.52 307.84M151.23 307.84L158.52 300.56" stroke="#00ff00" stroke-width="0.60" fill="none"/>
<path d="M232.61 300.36L239.89 307.64M232.61 307.64L239.89 300.36" stroke="#00ff00" stroke-width="0.60" fill="none"/>
<path d="M313.98 301.56L321.27 308.84M313.98 308.84L321.27 301.56" stroke="#00ff00" stroke-width="0.60" fill="none"/>
<path d="M395.36 302.36L402.64 309.64M395.36 309.64L402.64 302.36" stroke="#00ff00" stroke-width="0.60" fill="none"/>
<path d="M73.50 310.50 L76.89 310.20 L80.28 309.90 L83.67 309.61 L87.06 309.31 L90.45 309.02 L93.84 308.73 L97.23 308.45 L100.62 308.17 L104.02 307.89 L107.41 307.63 L110.80 307.36 L114.19 307.11 L117.58 306.86 L120.97 306.62 L124.36 306.38 L127.75 306.16 L131.14 305.95 L134.53 305.75 L137.92 305.56 L141.31 305.38 L144.70 305.21 L148.09 305.06 L151.48 304.92 L154.88 304.80 L158.27 304.69 L161.66 304.60 L165.05 304.52 L168.44 304.45 L171.83 304.39 L175.22 304.35 L178.61 304.32 L182.00 304.29 L185.39 304.28 L188.78 304.28 L192.17 304.28 L195.56 304.30 L198.95 304.32 L202.34 304.34 L205.73 304.37 L209.12 304.41 L212.52 304.45 L215.91 304.49 L219.30 304.54 L222.69 304.59 L226.08 304.64 L229.47 304.70 L232.86 304.75 L236.25 304.80 L239.64 304.85 L243.03 304.90 L246.42 304.95 L249.81 305.00 L253.20 305.04 L256.59 305.09 L259.98 305.14 L263.38 305.18 L266.77 305.22 L270.16 305.27 L273.55 305.31 L276.94 305.35 L280.33 305.39 L283.72 305.43 L287.11 305.47 L290.50 305.51 L293.89 305.55 L297.28 305.58 L300.67 305.62 L304.06 305.66 L307.45 305.69 L310.84 305.73 L314.23 305.76 L317.62 305.80 L321.02 305.84 L324.41 305.87 L327.80 305.90 L331.19 305.94 L334.58 305.97 L337.97 306.01 L341.36 306.04 L344.75 306.08 L348.14 306.11 L351.53 306.14 L354.92 306.18 L358.31 306.21 L361.70 306.24 L365.09 306.27 L368.48 306.31 L371.88 306.34 L375.27 306.37 L378.66 306.41 L382.05 306.44 L385.44 306.47 L388.83 306.50 L392.22 306.54 L395.61 306.57 L399.00 306.60" stroke="#00ff00" stroke-width="1.50" fill="none" stroke-dasharray="4.9 2.1"/>
<path d="M69.86 306.86L77.14 314.14M69.86 314.14L77.14 306.86" stroke="#00ff00" stroke-width="0.60" fill="none"/>
<path d="M151.23 301.16L158.52 308.44M151.23 308.44L158.52 301.16" stroke="#00ff00" stroke-width="0.60" fill="none"/>
<path d="M232.61 301.16L239.89 308.44M232.61 308.44L239.89 301.16" stroke="#00ff00" stroke-width="0.60" fill="none"/>
<path d="M313.98 302.16L321.27 309.44M313.98 309.44L321.27 302.16" stroke="#00ff00" stroke-width="0.60" fill="none"/>
<path d="M395.36 302.96L402.64 310.24M395.36 310.24L402.64 302.96" stroke="#00ff00" stroke-width="0.60" fill="none"/>
<path d="M73.50 320.50 L76.89 320.25 L80.28 320.00 L83.67 319.75 L87.06 319.51 L90.45 319.26 L93.84 319.02 L97.23 318.78 L100.62 318.55 L104.02 318.32 L107.41 318.10 L110.80 317.88 L114.19 317.66 L117.58 317.46 L120.97 317.26 L124.36 317.07 L127.75 316.89 L131.14 316.71 L134.53 316.55 L137.92 316.40 L141.31 316.25 L144.70 316.12 L148.09 316.00 L151.48 315.89 L154.88 315.80 L158.27 315.72 L161.66 315.65 L165.05 315.59 L168.44 315.55 L171.83 315.52 L175.22 315.50 L178.61 315.48 L182.00 315.48 L185.39 315.49 L188.78 315.50 L192.17 315.53 L195.56 315.56 L198.95 315.59 L202.34 315.64 L205.73 315.69 L209.12 315.74 L212.52 315.80 L215.91 315.86 L219.30 315.93 L222.69 316.00 L226.08 316.07 L229.47 316.15 L232.86 316.22 L236.25 316.30 L239.64 316.38 L243.03 316.45 L246.42 316.53 L249.81 316.61 L253.20 316.68 L256.59 316.76 L259.98 316.83 L263.38 316.90 L266.77 316.98 L270.16 317.05 L273.55 317.12 L276.94 317.18 L280.33 317.25 L283.72 317.31 L287.11 317.38 L290.50 317.43 L293.89 317.49 L297.28 317.54 L300.67 317.60 L304.06 317.64 L307.45 317.69 L310.84 317.73 L314.23 317.77 L317.62 317.80 L321.02 317.83 L324.41 317.86 L327.80 317.88 L331.19 317.90 L334.58 317.91 L337.97 317.92 L341.36 317.93 L344.75 317.94 L348.14 317.94 L351.53 317.95 L354.92 317.95 L358.31 317.94 L361.70 317.94 L365.09 317.93 L368.48 317.92 L371.88 317.91 L375.27 317.90 L378.66 317.89 L382.05 317.88 L385.44 317.86 L388.83 317.85 L392.22 317.83 L395.61 317.82 L399.00 317.80" stroke="#00ff00" stroke-width="1.50" fill="none" stroke-dasharray="4.9 2.1"/>
<path d="M69.86 316.86L77.14 324.14M69.86 324.14L77.14 316.86" stroke="#00ff00" stroke-width="0.60" fill="none"/>
<path d="M151.23 312.16L158.52 319.44M151.23 319.44L158.52 312.16" stroke="#00ff00" stroke-width="0.60" fill="none"/>
<path d="M232.61 312.66L239.89 319.94M232.61 319.94L239.89 312.66" stroke="#00ff00" stroke-width="0.60" fill="none"/>
<path d="M313.98 314.16L321.27 321.44M313.98 321.44L321.27 314.16" stroke="#00ff00" stroke-width="0.60" fill="none"/>
<path d="M395.36 314.16L402.64 321.44M395.36 321.44L402.64 314.16" stroke="#00ff00" stroke-width="0.60" fill="none"/>
<path d="M73.50 322.80 L76.89 322.49 L80.28 322.18 L83.67 321.87 L87.06 321.56 L90.45 321.26 L93.84 320.96 L97.23 320.67 L100.62 320.38 L104.02 320.09 L107.41 319.82 L110.80 319.55 L114.19 319.30 L117.58 319.05 L120.97 318.81 L124.36 318.58 L127.75 318.37 L131.14 318.17 L134.53 317.98 L137.92 317.81 L141.31 317.65 L144.70 317.51 L148.09 317.39 L151.48 317.29 L154.88 317.20 L158.27 317.13 L161.66 317.08 L165.05 317.05 L168.44 317.04 L171.83 317.04 L175.22 317.05 L178.61 317.08 L182.00 317.12 L185.39 317.17 L188.78 317.23 L192.17 317.30 L195.56 317.38 L198.95 317.46 L202.34 317.55 L205.73 317.64 L209.12 317.74 L212.52 317.84 L215.91 317.94 L219.30 318.04 L222.69 318.14 L226.08 318.23 L229.47 318.33 L232.86 318.42 L236.25 318.50 L239.64 318.58 L243.03 318.65 L246.42 318.72 L249.81 318.78 L253.20 318.83 L256.59 318.88 L259.98 318.93 L263.38 318.97 L266.77 319.00 L270.16 319.04 L273.55 319.06 L276.94 319.09 L280.33 319.11 L283.72 319.13 L287.11 319.14 L290.50 319.16 L293.89 319.17 L297.28 319.18 L300.67 319.18 L304.06 319.19 L307.45 319.19 L310.84 319.20 L314.23 319.20 L317.62 319.20 L321.02 319.20 L324.41 319.20 L327.80 319.20 L331.19 319.21 L334.58 319.21 L337.97 319.21 L341.36 319.21 L344.75 319.21 L348.14 319.21 L351.53 319.21 L354.92 319.21 L358.31 319.21 L361.70 319.21 L365.09 319.21 L368.48 319.21 L371.88 319.21 L375.27 319.21 L378.66 319.21 L382.05 319.20 L385.44 319.20 L388.83 319.20 L392.22 319.20 L395.61 319.20 L399.00 319.20" stroke="#00ff00" stroke-width="1.50" fill="none" stroke-dasharray="4.9 2.1"/>
<path d="M69.86 319.16L77.14 326.44M69.86 326.44L77.14 319.16" stroke="#00ff00" stroke-width="0.60" fill="none"/>
<path d="M151.23 313.56L158.52 320.84M151.23 320.84L158.52 313.56" stroke="#00ff00" stroke-width="0.60" fill="none"/>
<path d="M232.61 314.86L239.89 322.14M232.61 322.14L239.89 314.86" stroke="#00ff00" stroke-width="0.60" fill="none"/>
<path d="M313.98 315.56L321.27 322.84M313.98 322.84L321.27 315.56" stroke="#00ff00" stroke-width="0.60" fill="none"/>
<path d="M395.36 315.56L402.64 322.84M395.36 322.84L402.64 315.56" stroke="#00ff00" stroke-width="0.60" fill="none"/>
<path d="M73.50 440.80 L76.89 440.60 L80.28 440.41 L83.67 440.21 L87.06 440.01 L90.45 439.82 L93.84 439.63 L97.23 439.43 L100.62 439.24 L104.02 439.06 L107.41 438.87 L110.80 438.68 L114.19 438.50 L117.58 438.32 L120.97 438.15 L124.36 437.97 L127.75 437.80 L131.14 437.64 L134.53 437.48 L137.92 437.32 L141.31 437.17 L144.70 437.02 L148.09 436.87 L151.48 436.73 L154.88 436.60 L158.27 436.47 L161.66 436.35 L165.05 436.23 L168.44 436.12 L171.83 436.01 L175.22 435.91 L178.61 435.82 L182.00 435.73 L185.39 435.65 L188.78 435.57 L192.17 435.50 L195.56 435.43 L198.95 435.37 L202.34 435.32 L205.73 435.27 L209.12 435.22 L212.52 435.19 L215.91 435.16 L219.30 435.13 L222.69 435.11 L226.08 435.10 L229.47 435.09 L232.86 435.09 L236.25 435.10 L239.64 435.11 L243.03 435.13 L246.42 435.15 L249.81 435.18 L253.20 435.21 L256.59 435.25 L259.98 435.29 L263.38 435.34 L266.77 435.38 L270.16 435.43 L273.55 435.49 L276.94 435.54 L280.33 435.60 L283.72 435.65 L287.11 435.71 L290.50 435.77 L293.89 435.83 L297.28 435.88 L300.67 435.94 L304.06 436.00 L307.45 436.05 L310.84 436.10 L314.23 436.15 L317.62 436.20 L321.02 436.24 L324.41 436.29 L327.80 436.32 L331.19 436.36 L334.58 436.39 L337.97 436.42 L341.36 436.45 L344.75 436.48 L348.14 436.50 L351.53 436.52 L354.92 436.54 L358.31 436.56 L361.70 436.58 L365.09 436.59 L368.48 436.61 L371.88 436.62 L375.27 436.63 L378.66 436.64 L382.05 436.66 L385.44 436.66 L388.83 436.67 L392.22 436.68 L395.61 436.69 L399.00 436.70" stroke="#00ff00" stroke-width="1.50" fill="none" stroke-dasharray="4.9 2.1"/>
<path d="M69.86 437.16L77.14 444.44M69.86 444.44L77.14 437.16" stroke="#00ff00" stroke-width="0.60" fill="none"/>
<path d="M151.23 432.96L158.52 440.24M151.23 440.24L158.52 432.96" stroke="#00ff00" stroke-width="0.60" fill="none"/>
<path d="M232.61 431.46L239.89 438.74M232.61 438.74L239.89 431.46" stroke="#00ff00" stroke-width="0.60" fill="none"/>
<path d="M313.98 432.56L321.27 439.84M313.98 439.84L321.27 432.56" stroke="#00ff00" stroke-width="0.60" fill="none"/>
<path d="M395.36 433.06L402.64 440.34M395.36 440.34L402.64 433.06" stroke="#00ff00" stroke-width="0.60" fill="none"/>
<path d="M73.50 444.60 L76.89 444.34 L80.28 444.08 L83.67 443.82 L87.06 443.57 L90.45 443.31 L93.84 443.06 L97.23 442.81 L100.62 442.56 L104.02 442.32 L107.41 442.08 L110.80 441.84 L114.19 441.61 L117.58 441.39 L120.97 441.17 L124.36 440.96 L127.75 440.75 L131.14 440.55 L134.53 440.36 L137.92 440.18 L141.31 440.00 L144.70 439.84 L148.09 439.68 L151.48 439.54 L154.88 439.40 L158.27 439.27 L161.66 439.16 L165.05 439.06 L168.44 438.96 L171.83 438.88 L175.22 438.80 L178.61 438.73 L182.00 438.67 L185.39 438.62 L188.78 438.58 L192.17 438.54 L195.56 438.51 L198.95 438.49 L202.34 438.48 L205.73 438.47 L209.12 438.46 L212.52 438.46 L215.91 438.47 L219.30 438.48 L222.69 438.50 L226.08 438.52 L229.47 438.54 L232.86 438.57 L236.25 438.60 L239.64 438.63 L243.03 438.67 L246.42 438.71 L249.81 438.75 L253.20 438.79 L256.59 438.83 L259.98 438.88 L263.38 438.93 L266.77 438.97 L270.16 439.02 L273.55 439.07 L276.94 439.12 L280.33 439.17 L283.72 439.22 L287.11 439.28 L290.50 439.33 L293.89 439.38 L297.28 439.43 L300.67 439.47 L304.06 439.52 L307.45 439.57 L310.84 439.61 L314.23 439.66 L317.62 439.70 L321.02 439.74 L324.41 439.78 L327.80 439.81 L331.19 439.85 L334.58 439.88 L337.97 439.91 L341.36 439.94 L344.75 439.97 L348.14 440.00 L351.53 440.02 L354.92 440.05 L358.31 440.07 L361.70 440.09 L365.09 440.12 L368.48 440.14 L371.88 440.16 L375.27 440.18 L378.66 440.19 L382.05 440.21 L385.44 440.23 L388.83 440.25 L392.22 440.27 L395.61 440.28 L399.00 440.30" stroke="#00ff00" stroke-width="1.50" fill="none" stroke-dasharray="4.9 2.1"/>
<path d="M69.86 440.96L77.14 448.24M69.86 448.24L77.14 440.96" stroke="#00ff00" stroke-width="0.60" fill="none"/>
<path d="M151.23 435.76L158.52 443.04M151.23 443.04L158.52 435.76" stroke="#00ff00" stroke-width="0.60" fill="none"/>
<path d="M232.61 434.96L239.89 442.24M232.61 442.24L239.89 434.96" stroke="#00ff00" stroke-width="0.60" fill="none"/>
<path d="M313.98 436.06L321.27 443.34M313.98 443.34L321.27 436.06" stroke="#00ff00" stroke-width="0.60" fill="none"/>
<path d="M395.36 436.66L402.64 443.94M395.36 443.94L402.64 436.66" stroke="#00ff00" stroke-width="0.60" fill="none"/>
<path d="M73.50 359.20 L76.89 358.34 L80.28 357.49 L83.67 356.64 L87.06 355.79 L90.45 354.95 L93.84 354.11 L97.23 353.29 L100.62 352.47 L104.02 351.67 L107.41 350.87 L110.80 350.10 L114.19 349.33 L117.58 348.59 L120.97 347.86 L124.36 347.15 L127.75 346.46 L131.14 345.80 L134.53 345.16 L137.92 344.54 L141.31 343.96 L144.70 343.40 L148.09 342.87 L151.48 342.37 L154.88 341.90 L158.27 341.47 L161.66 341.06 L165.05 340.69 L168.44 340.35 L171.83 340.02 L175.22 339.73 L178.61 339.45 L182.00 339.19 L185.39 338.95 L188.78 338.72 L192.17 338.50 L195.56 338.29 L198.95 338.09 L202.34 337.89 L205.73 337.70 L209.12 337.50 L212.52 337.31 L215.91 337.11 L219.30 336.90 L222.69 336.69 L226.08 336.46 L229.47 336.22 L232.86 335.97 L236.25 335.70 L239.64 335.41 L243.03 335.10 L246.42 334.77 L249.81 334.42 L253.20 334.06 L256.59 333.67 L259.98 333.27 L263.38 332.85 L266.77 332.41 L270.16 331.96 L273.55 331.49 L276.94 331.00 L280.33 330.49 L283.72 329.97 L287.11 329.43 L290.50 328.87 L293.89 328.30 L297.28 327.72 L300.67 327.12 L304.06 326.50 L307.45 325.87 L310.84 325.23 L314.23 324.57 L317.62 323.90 L321.02 323.21 L324.41 322.52 L327.80 321.80 L331.19 321.08 L334.58 320.35 L337.97 319.60 L341.36 318.85 L344.75 318.08 L348.14 317.31 L351.53 316.53 L354.92 315.74 L358.31 314.94 L361.70 314.13 L365.09 313.32 L368.48 312.51 L371.88 311.69 L375.27 310.86 L378.66 310.03 L382.05 309.20 L385.44 308.36 L388.83 307.52 L392.22 306.68 L395.61 305.84 L399.00 305.00" stroke="#ff0000" stroke-width="1.50" fill="none" stroke-linejoin="round"/>
<path d="M69.80 359.20H77.20M73.50 355.50V362.90M69.86 355.56L77.14 362.84M69.86 362.84L77.14 355.56" stroke="#ff0000" stroke-width="0.60" fill="none"/>
<path d="M151.18 341.90H158.57M154.88 338.20V345.60M151.23 338.26L158.52 345.54M151.23 345.54L158.52 338.26" stroke="#ff0000" stroke-width="0.60" fill="none"/>
<path d="M232.55 335.70H239.95M236.25 332.00V339.40M232.61 332.06L239.89 339.34M232.61 339.34L239.89 332.06" stroke="#ff0000" stroke-width="0.60" fill="none"/>
<path d="M313.93 323.90H321.32M317.62 320.20V327.60M313.98 320.26L321.27 327.54M313.98 327.54L321.27 320.26" stroke="#ff0000" stroke-width="0.60" fill="none"/>
<path d="M395.30 305.00H402.70M399.00 301.30V308.70M395.36 301.36L402.64 308.64M395.36 308.64L402.64 301.36" stroke="#ff0000" stroke-width="0.60" fill="none"/>
<path d="M73.50 419.40 L76.89 420.21 L80.28 421.02 L83.67 421.83 L87.06 422.65 L90.45 423.47 L93.84 424.29 L97.23 425.12 L100.62 425.96 L104.02 426.80 L107.41 427.65 L110.80 428.51 L114.19 429.38 L117.58 430.27 L120.97 431.16 L124.36 432.07 L127.75 432.99 L131.14 433.93 L134.53 434.89 L137.92 435.86 L141.31 436.85 L144.70 437.85 L148.09 438.88 L151.48 439.93 L154.88 441.00 L158.27 442.09 L161.66 443.21 L165.05 444.34 L168.44 445.49 L171.83 446.66 L175.22 447.84 L178.61 449.04 L182.00 450.24 L185.39 451.46 L188.78 452.69 L192.17 453.92 L195.56 455.16 L198.95 456.40 L202.34 457.65 L205.73 458.89 L209.12 460.14 L212.52 461.38 L215.91 462.62 L219.30 463.86 L222.69 465.09 L226.08 466.31 L229.47 467.52 L232.86 468.71 L236.25 469.90 L239.64 471.07 L243.03 472.23 L246.42 473.37 L249.81 474.50 L253.20 475.61 L256.59 476.70 L259.98 477.79 L263.38 478.85 L266.77 479.90 L270.16 480.94 L273.55 481.96 L276.94 482.97 L280.33 483.96 L283.72 484.93 L287.11 485.89 L290.50 486.83 L293.89 487.76 L297.28 488.67 L300.67 489.57 L304.06 490.44 L307.45 491.31 L310.84 492.15 L314.23 492.99 L317.62 493.80 L321.02 494.60 L324.41 495.38 L327.80 496.15 L331.19 496.90 L334.58 497.64 L337.97 498.37 L341.36 499.08 L344.75 499.78 L348.14 500.47 L351.53 501.16 L354.92 501.83 L358.31 502.49 L361.70 503.15 L365.09 503.79 L368.48 504.43 L371.88 505.07 L375.27 505.70 L378.66 506.32 L382.05 506.94 L385.44 507.56 L388.83 508.17 L392.22 508.78 L395.61 509.39 L399.00 510.00" stroke="#ff0000" stroke-width="1.50" fill="none" stroke-linejoin="round"/>
<path d="M69.80 419.40H77.20M73.50 415.70V423.10M69.86 415.76L77.14 423.04M69.86 423.04L77.14 415.76" stroke="#ff0000" stroke-width="0.60" fill="none"/>
<path d="M151.18 441.00H158.57M154.88 437.30V444.70M151.23 437.36L158.52 444.64M151.23 444.64L158.52 437.36" stroke="#ff0000" stroke-width="0.60" fill="none"/>
<path d="M232.55 469.90H239.95M236.25 466.20V473.60M232.61 466.26L239.89 473.54M232.61 473.54L239.89 466.26" stroke="#ff0000" stroke-width="0.60" fill="none"/>
<path d="M313.93 493.80H321.32M317.62 490.10V497.50M313.98 490.16L321.27 497.44M313.98 497.44L321.27 490.16" stroke="#ff0000" stroke-width="0.60" fill="none"/>
<path d="M395.30 510.00H402.70M399.00 506.30V513.70M395.36 506.36L402.64 513.64M395.36 513.64L402.64 506.36" stroke="#ff0000" stroke-width="0.60" fill="none"/>
<path d="M73.50 309.70 L76.89 309.45 L80.28 309.21 L83.67 308.97 L87.06 308.73 L90.45 308.49 L93.84 308.26 L97.23 308.04 L100.62 307.83 L104.02 307.63 L107.41 307.43 L110.80 307.25 L114.19 307.08 L117.58 306.93 L120.97 306.79 L124.36 306.67 L127.75 306.56 L131.14 306.48 L134.53 306.41 L137.92 306.37 L141.31 306.34 L144.70 306.34 L148.09 306.37 L151.48 306.42 L154.88 306.50 L158.27 306.61 L161.66 306.74 L165.05 306.90 L168.44 307.08 L171.83 307.28 L175.22 307.50 L178.61 307.75 L182.00 308.00 L185.39 308.28 L188.78 308.56 L192.17 308.86 L195.56 309.16 L198.95 309.48 L202.34 309.80 L205.73 310.13 L209.12 310.46 L212.52 310.79 L215.91 311.12 L219.30 311.45 L222.69 311.77 L226.08 312.09 L229.47 312.40 L232.86 312.71 L236.25 313.00 L239.64 313.28 L243.03 313.55 L246.42 313.81 L249.81 314.06 L253.20 314.30 L256.59 314.52 L259.98 314.74 L263.38 314.94 L266.77 315.14 L270.16 315.32 L273.55 315.50 L276.94 315.66 L280.33 315.82 L283.72 315.97 L287.11 316.10 L290.50 316.23 L293.89 316.36 L297.28 316.47 L300.67 316.58 L304.06 316.68 L307.45 316.77 L310.84 316.85 L314.23 316.93 L317.62 317.00 L321.02 317.06 L324.41 317.12 L327.80 317.18 L331.19 317.22 L334.58 317.26 L337.97 317.30 L341.36 317.33 L344.75 317.36 L348.14 317.38 L351.53 317.40 L354.92 317.42 L358.31 317.43 L361.70 317.44 L365.09 317.44 L368.48 317.45 L371.88 317.45 L375.27 317.45 L378.66 317.44 L382.05 317.44 L385.44 317.43 L388.83 317.43 L392.22 317.42 L395.61 317.41 L399.00 317.40" stroke="#ff0000" stroke-width="1.50" fill="none" stroke-dasharray="4.9 2.1"/>
<path d="M69.80 309.70H77.20M73.50 306.00V313.40M69.86 306.06L77.14 313.34M69.86 313.34L77.14 306.06" stroke="#ff0000" stroke-width="0.60" fill="none"/>
<path d="M151.18 306.50H158.57M154.88 302.80V310.20M151.23 302.86L158.52 310.14M151.23 310.14L158.52 302.86" stroke="#ff0000" stroke-width="0.60" fill="none"/>
<path d="M232.55 313.00H239.95M236.25 309.30V316.70M232.61 309.36L239.89 316.64M232.61 316.64L239.89 309.36" stroke="#ff0000" stroke-width="0.60" fill="none"/>
<path d="M313.93 317.00H321.32M317.62 313.30V320.70M313.98 313.36L321.27 320.64M313.98 320.64L321.27 313.36" stroke="#ff0000" stroke-width="0.60" fill="none"/>
<path d="M395.30 317.40H402.70M399.00 313.70V321.10M395.36 313.76L402.64 321.04M395.36 321.04L402.64 313.76" stroke="#ff0000" stroke-width="0.60" fill="none"/>
<path d="M73.50 310.50 L76.89 310.26 L80.28 310.02 L83.67 309.79 L87.06 309.56 L90.45 309.33 L93.84 309.11 L97.23 308.90 L100.62 308.69 L104.02 308.50 L107.41 308.31 L110.80 308.14 L114.19 307.98 L117.58 307.83 L120.97 307.70 L124.36 307.59 L127.75 307.49 L131.14 307.41 L134.53 307.36 L137.92 307.32 L141.31 307.31 L144.70 307.32 L148.09 307.35 L151.48 307.41 L154.88 307.50 L158.27 307.62 L161.66 307.76 L165.05 307.93 L168.44 308.12 L171.83 308.33 L175.22 308.56 L178.61 308.81 L182.00 309.08 L185.39 309.36 L188.78 309.65 L192.17 309.96 L195.56 310.28 L198.95 310.60 L202.34 310.93 L205.73 311.26 L209.12 311.60 L212.52 311.94 L215.91 312.28 L219.30 312.61 L222.69 312.95 L226.08 313.27 L229.47 313.59 L232.86 313.90 L236.25 314.20 L239.64 314.49 L243.03 314.76 L246.42 315.02 L249.81 315.28 L253.20 315.52 L256.59 315.74 L259.98 315.96 L263.38 316.17 L266.77 316.36 L270.16 316.55 L273.55 316.73 L276.94 316.89 L280.33 317.05 L283.72 317.19 L287.11 317.33 L290.50 317.46 L293.89 317.58 L297.28 317.69 L300.67 317.80 L304.06 317.89 L307.45 317.98 L310.84 318.06 L314.23 318.13 L317.62 318.20 L321.02 318.26 L324.41 318.31 L327.80 318.36 L331.19 318.40 L334.58 318.43 L337.97 318.46 L341.36 318.49 L344.75 318.51 L348.14 318.52 L351.53 318.53 L354.92 318.54 L358.31 318.54 L361.70 318.54 L365.09 318.54 L368.48 318.54 L371.88 318.53 L375.27 318.52 L378.66 318.50 L382.05 318.49 L385.44 318.47 L388.83 318.46 L392.22 318.44 L395.61 318.42 L399.00 318.40" stroke="#ff0000" stroke-width="1.50" fill="none" stroke-dasharray="4.9 2.1"/>
<path d="M69.80 310.50H77.20M73.50 306.80V314.20M69.86 306.86L77.14 314.14M69.86 314.14L77.14 306.86" stroke="#ff0000" stroke-width="0.60" fill="none"/>
<path d="M151.18 307.50H158.57M154.88 303.80V311.20M151.23 303.86L158.52 311.14M151.23 311.14L158.52 303.86" stroke="#ff0000" stroke-width="0.60" fill="none"/>
<path d="M232.55 314.20H239.95M236.25 310.50V317.90M232.61 310.56L239.89 317.84M232.61 317.84L239.89 310.56" stroke="#ff0000" stroke-width="0.60" fill="none"/>
<path d="M313.93 318.20H321.32M317.62 314.50V321.90M313.98 314.56L321.27 321.84M313.98 321.84L321.27 314.56" stroke="#ff0000" stroke-width="0.60" fill="none"/>
<path d="M395.30 318.40H402.70M399.00 314.70V322.10M395.36 314.76L402.64 322.04M395.36 322.04L402.64 314.76" stroke="#ff0000" stroke-width="0.60" fill="none"/>
<path d="M73.50 320.50 L76.89 320.32 L80.28 320.14 L83.67 319.96 L87.06 319.78 L90.45 319.61 L93.84 319.44 L97.23 319.28 L100.62 319.13 L104.02 318.98 L107.41 318.84 L110.80 318.72 L114.19 318.60 L117.58 318.50 L120.97 318.41 L124.36 318.34 L127.75 318.28 L131.14 318.24 L134.53 318.22 L137.92 318.21 L141.31 318.23 L144.70 318.26 L148.09 318.32 L151.48 318.40 L154.88 318.50 L158.27 318.63 L161.66 318.78 L165.05 318.95 L168.44 319.15 L171.83 319.36 L175.22 319.59 L178.61 319.83 L182.00 320.09 L185.39 320.36 L188.78 320.64 L192.17 320.94 L195.56 321.24 L198.95 321.54 L202.34 321.85 L205.73 322.17 L209.12 322.49 L212.52 322.80 L215.91 323.12 L219.30 323.43 L222.69 323.74 L226.08 324.04 L229.47 324.34 L232.86 324.62 L236.25 324.90 L239.64 325.16 L243.03 325.42 L246.42 325.66 L249.81 325.89 L253.20 326.11 L256.59 326.32 L259.98 326.52 L263.38 326.71 L266.77 326.89 L270.16 327.06 L273.55 327.22 L276.94 327.38 L280.33 327.52 L283.72 327.66 L287.11 327.79 L290.50 327.92 L293.89 328.04 L297.28 328.15 L300.67 328.25 L304.06 328.35 L307.45 328.45 L310.84 328.54 L314.23 328.62 L317.62 328.70 L321.02 328.78 L324.41 328.85 L327.80 328.92 L331.19 328.98 L334.58 329.04 L337.97 329.10 L341.36 329.16 L344.75 329.21 L348.14 329.26 L351.53 329.31 L354.92 329.35 L358.31 329.40 L361.70 329.44 L365.09 329.48 L368.48 329.51 L371.88 329.55 L375.27 329.58 L378.66 329.62 L382.05 329.65 L385.44 329.68 L388.83 329.71 L392.22 329.74 L395.61 329.77 L399.00 329.80" stroke="#ff0000" stroke-width="1.50" fill="none" stroke-dasharray="4.9 2.1"/>
<path d="M69.80 320.50H77.20M73.50 316.80V324.20M69.86 316.86L77.14 324.14M69.86 324.14L77.14 316.86" stroke="#ff0000" stroke-width="0.60" fill="none"/>
<path d="M151.18 318.50H158.57M154.88 314.80V322.20M151.23 314.86L158.52 322.14M151.23 322.14L158.52 314.86" stroke="#ff0000" stroke-width="0.60" fill="none"/>
<path d="M232.55 324.90H239.95M236.25 321.20V328.60M232.61 321.26L239.89 328.54M232.61 328.54L239.89 321.26" stroke="#ff0000" stroke-width="0.60" fill="none"/>
<path d="M313.93 328.70H321.32M317.62 325.00V332.40M313.98 325.06L321.27 332.34M313.98 332.34L321.27 325.06" stroke="#ff0000" stroke-width="0.60" fill="none"/>
<path d="M395.30 329.80H402.70M399.00 326.10V333.50M395.36 326.16L402.64 333.44M395.36 333.44L402.64 326.16" stroke="#ff0000" stroke-width="0.60" fill="none"/>
<path d="M73.50 322.80 L76.89 322.59 L80.28 322.37 L83.67 322.16 L87.06 321.95 L90.45 321.75 L93.84 321.55 L97.23 321.36 L100.62 321.17 L104.02 321.00 L107.41 320.83 L110.80 320.68 L114.19 320.54 L117.58 320.41 L120.97 320.30 L124.36 320.20 L127.75 320.12 L131.14 320.05 L134.53 320.01 L137.92 319.98 L141.31 319.98 L144.70 320.00 L148.09 320.04 L151.48 320.11 L154.88 320.20 L158.27 320.32 L161.66 320.46 L165.05 320.63 L168.44 320.82 L171.83 321.03 L175.22 321.26 L178.61 321.50 L182.00 321.76 L185.39 322.04 L188.78 322.33 L192.17 322.62 L195.56 322.93 L198.95 323.25 L202.34 323.57 L205.73 323.90 L209.12 324.23 L212.52 324.56 L215.91 324.89 L219.30 325.22 L222.69 325.55 L226.08 325.88 L229.47 326.19 L232.86 326.50 L236.25 326.80 L239.64 327.09 L243.03 327.37 L246.42 327.63 L249.81 327.89 L253.20 328.14 L256.59 328.37 L259.98 328.60 L263.38 328.82 L266.77 329.03 L270.16 329.22 L273.55 329.41 L276.94 329.59 L280.33 329.76 L283.72 329.92 L287.11 330.08 L290.50 330.22 L293.89 330.36 L297.28 330.49 L300.67 330.61 L304.06 330.72 L307.45 330.83 L310.84 330.93 L314.23 331.02 L317.62 331.10 L321.02 331.18 L324.41 331.25 L327.80 331.31 L331.19 331.37 L334.58 331.42 L337.97 331.47 L341.36 331.51 L344.75 331.55 L348.14 331.58 L351.53 331.60 L354.92 331.63 L358.31 331.65 L361.70 331.66 L365.09 331.68 L368.48 331.69 L371.88 331.70 L375.27 331.70 L378.66 331.71 L382.05 331.71 L385.44 331.71 L388.83 331.71 L392.22 331.70 L395.61 331.70 L399.00 331.70" stroke="#ff0000" stroke-width="1.50" fill="none" stroke-dasharray="4.9 2.1"/>
<path d="M69.80 322.80H77.20M73.50 319.10V326.50M69.86 319.16L77.14 326.44M69.86 326.44L77.14 319.16" stroke="#ff0000" stroke-width="0.60" fill="none"/>
<path d="M151.18 320.20H158.57M154.88 316.50V323.90M151.23 316.56L158.52 323.84M151.23 323.84L158.52 316.56" stroke="#ff0000" stroke-width="0.60" fill="none"/>
<path d="M232.55 326.80H239.95M236.25 323.10V330.50M232.61 323.16L239.89 330.44M232.61 330.44L239.89 323.16" stroke="#ff0000" stroke-width="0.60" fill="none"/>
<path d="M313.93 331.10H321.32M317.62 327.40V334.80M313.98 327.46L321.27 334.74M313.98 334.74L321.27 327.46" stroke="#ff0000" stroke-width="0.60" fill="none"/>
<path d="M395.30 331.70H402.70M399.00 328.00V335.40M395.36 328.06L402.64 335.34M395.36 335.34L402.64 328.06" stroke="#ff0000" stroke-width="0.60" fill="none"/>
<path d="M73.50 440.80 L76.89 440.56 L80.28 440.32 L83.67 440.09 L87.06 439.85 L90.45 439.63 L93.84 439.40 L97.23 439.18 L100.62 438.97 L104.02 438.77 L107.41 438.58 L110.80 438.40 L114.19 438.22 L117.58 438.06 L120.97 437.92 L124.36 437.78 L127.75 437.67 L131.14 437.57 L134.53 437.48 L137.92 437.42 L141.31 437.37 L144.70 437.35 L148.09 437.34 L151.48 437.36 L154.88 437.40 L158.27 437.47 L161.66 437.55 L165.05 437.66 L168.44 437.79 L171.83 437.94 L175.22 438.11 L178.61 438.30 L182.00 438.50 L185.39 438.72 L188.78 438.95 L192.17 439.19 L195.56 439.44 L198.95 439.71 L202.34 439.98 L205.73 440.26 L209.12 440.54 L212.52 440.83 L215.91 441.12 L219.30 441.42 L222.69 441.72 L226.08 442.02 L229.47 442.31 L232.86 442.61 L236.25 442.90 L239.64 443.19 L243.03 443.47 L246.42 443.74 L249.81 444.02 L253.20 444.28 L256.59 444.54 L259.98 444.79 L263.38 445.04 L266.77 445.28 L270.16 445.51 L273.55 445.74 L276.94 445.96 L280.33 446.17 L283.72 446.37 L287.11 446.57 L290.50 446.75 L293.89 446.93 L297.28 447.10 L300.67 447.25 L304.06 447.40 L307.45 447.54 L310.84 447.67 L314.23 447.79 L317.62 447.90 L321.02 448.00 L324.41 448.09 L327.80 448.16 L331.19 448.23 L334.58 448.29 L337.97 448.34 L341.36 448.38 L344.75 448.42 L348.14 448.45 L351.53 448.47 L354.92 448.48 L358.31 448.49 L361.70 448.49 L365.09 448.49 L368.48 448.48 L371.88 448.47 L375.27 448.46 L378.66 448.44 L382.05 448.42 L385.44 448.40 L388.83 448.38 L392.22 448.35 L395.61 448.33 L399.00 448.30" stroke="#ff0000" stroke-width="1.50" fill="none" stroke-dasharray="4.9 2.1"/>
<path d="M69.80 440.80H77.20M73.50 437.10V444.50M69.86 437.16L77.14 444.44M69.86 444.44L77.14 437.16" stroke="#ff0000" stroke-width="0.60" fill="none"/>
<path d="M151.18 437.40H158.57M154.88 433.70V441.10M151.23 433.76L158.52 441.04M151.23 441.04L158.52 433.76" stroke="#ff0000" stroke-width="0.60" fill="none"/>
<path d="M232.55 442.90H239.95M236.25 439.20V446.60M232.61 439.26L239.89 446.54M232.61 446.54L239.89 439.26" stroke="#ff0000" stroke-width="0.60" fill="none"/>
<path d="M313.93 447.90H321.32M317.62 444.20V451.60M313.98 444.26L321.27 451.54M313.98 451.54L321.27 444.26" stroke="#ff0000" stroke-width="0.60" fill="none"/>
<path d="M395.30 448.30H402.70M399.00 444.60V452.00M395.36 444.66L402.64 451.94M395.36 451.94L402.64 444.66" stroke="#ff0000" stroke-width="0.60" fill="none"/>
<path d="M73.50 444.60 L76.89 444.30 L80.28 444.01 L83.67 443.72 L87.06 443.43 L90.45 443.14 L93.84 442.87 L97.23 442.59 L100.62 442.33 L104.02 442.08 L107.41 441.84 L110.80 441.60 L114.19 441.39 L117.58 441.18 L120.97 440.99 L124.36 440.82 L127.75 440.66 L131.14 440.53 L134.53 440.41 L137.92 440.32 L141.31 440.24 L144.70 440.20 L148.09 440.17 L151.48 440.17 L154.88 440.20 L158.27 440.26 L161.66 440.34 L165.05 440.45 L168.44 440.58 L171.83 440.73 L175.22 440.91 L178.61 441.11 L182.00 441.32 L185.39 441.56 L188.78 441.80 L192.17 442.07 L195.56 442.34 L198.95 442.63 L202.34 442.93 L205.73 443.24 L209.12 443.55 L212.52 443.88 L215.91 444.20 L219.30 444.54 L222.69 444.87 L226.08 445.20 L229.47 445.54 L232.86 445.87 L236.25 446.20 L239.64 446.53 L243.03 446.85 L246.42 447.16 L249.81 447.47 L253.20 447.78 L256.59 448.07 L259.98 448.36 L263.38 448.65 L266.77 448.92 L270.16 449.19 L273.55 449.45 L276.94 449.70 L280.33 449.95 L283.72 450.18 L287.11 450.40 L290.50 450.61 L293.89 450.82 L297.28 451.01 L300.67 451.19 L304.06 451.35 L307.45 451.51 L310.84 451.65 L314.23 451.78 L317.62 451.90 L321.02 452.00 L324.41 452.09 L327.80 452.17 L331.19 452.24 L334.58 452.29 L337.97 452.33 L341.36 452.37 L344.75 452.39 L348.14 452.40 L351.53 452.41 L354.92 452.41 L358.31 452.39 L361.70 452.38 L365.09 452.35 L368.48 452.33 L371.88 452.29 L375.27 452.25 L378.66 452.21 L382.05 452.16 L385.44 452.11 L388.83 452.06 L392.22 452.01 L395.61 451.95 L399.00 451.90" stroke="#ff0000" stroke-width="1.50" fill="none" stroke-dasharray="4.9 2.1"/>
<path d="M69.80 444.60H77.20M73.50 440.90V448.30M69.86 440.96L77.14 448.24M69.86 448.24L77.14 440.96" stroke="#ff0000" stroke-width="0.60" fill="none"/>
<path d="M151.18 440.20H158.57M154.88 436.50V443.90M151.23 436.56L158.52 443.84M151.23 443.84L158.52 436.56" stroke="#ff0000" stroke-width="0.60" fill="none"/>
<path d="M232.55 446.20H239.95M236.25 442.50V449.90M232.61 442.56L239.89 449.84M232.61 449.84L239.89 442.56" stroke="#ff0000" stroke-width="0.60" fill="none"/>
<path d="M313.93 451.90H321.32M317.62 448.20V455.60M313.98 448.26L321.27 455.54M313.98 455.54L321.27 448.26" stroke="#ff0000" stroke-width="0.60" fill="none"/>
<path d="M395.30 451.90H402.70M399.00 448.20V455.60M395.36 448.26L402.64 455.54M395.36 455.54L402.64 448.26" stroke="#ff0000" stroke-width="0.60" fill="none"/>
<path d="M73.50 294.00H399.00V519.55H73.50Z" stroke="#000" stroke-width="1" fill="none"/>
<path d="M429.1 323.30H416" stroke="#000" stroke-width="1" fill="none"/>
<path d="M407.4 323.30L419.0 320.30L419.0 326.30Z" fill="#000"/>
<path d="M429.1 342.10H416" stroke="#000" stroke-width="1" fill="none"/>
<path d="M407.4 342.10L419.0 339.10L419.0 345.10Z" fill="#000"/>
<path d="M429.1 439.40H416" stroke="#000" stroke-width="1" fill="none"/>
<path d="M407.4 439.40L419.0 436.40L419.0 442.40Z" fill="#000"/>
<path d="M429.1 470.30H416" stroke="#000" stroke-width="1" fill="none"/>
<path d="M407.4 470.30L419.0 467.30L419.0 473.30Z" fill="#000"/>
<g style="filter:grayscale(1)">
<text transform="translate(63.10 27.80) scale(1 1.050)" text-anchor="end" font-size="17.45" class="s">1.40</text>
<text transform="translate(63.10 57.51) scale(1 1.050)" text-anchor="end" font-size="17.45" class="s">1.30</text>
<text transform="translate(63.10 87.22) scale(1 1.050)" text-anchor="end" font-size="17.45" class="s">1.20</text>
<text transform="translate(63.10 116.94) scale(1 1.050)" text-anchor="end" font-size="17.45" class="s">1.10</text>
<text transform="translate(63.10 146.65) scale(1 1.050)" text-anchor="end" font-size="17.45" class="s">1.00</text>
<text transform="translate(63.10 176.36) scale(1 1.050)" text-anchor="end" font-size="17.45" class="s">0.90</text>
<text transform="translate(63.10 206.07) scale(1 1.050)" text-anchor="end" font-size="17.45" class="s">0.80</text>
<text transform="translate(63.10 235.79) scale(1 1.050)" text-anchor="end" font-size="17.45" class="s">0.70</text>
<text transform="translate(63.10 265.50) scale(1 1.050)" text-anchor="end" font-size="17.45" class="s">0.60</text>
<text transform="translate(317.90 217.20) scale(1 1.050)" text-anchor="end" font-size="17.45" class="s">Hydrogenic</text>
<text transform="translate(317.90 234.90) scale(1 1.050)" text-anchor="end" font-size="17.45" class="s">Tensorial</text>
<text transform="translate(317.90 252.60) scale(1 1.050)" text-anchor="end" font-size="17.45" class="s">Dual</text>
<text transform="translate(75.75 283.20) scale(1 1.050)" text-anchor="middle" font-size="17.45" class="s">0</text>
<text transform="translate(157.12 283.20) scale(1 1.050)" text-anchor="middle" font-size="17.45" class="s">2</text>
<text transform="translate(238.50 283.20) scale(1 1.050)" text-anchor="middle" font-size="17.45" class="s">4</text>
<text transform="translate(319.88 283.20) scale(1 1.050)" text-anchor="middle" font-size="17.45" class="s">6</text>
<text transform="translate(401.25 283.20) scale(1 1.050)" text-anchor="middle" font-size="17.45" class="s">8</text>
<text transform="translate(18.20 140.40) rotate(-90) scale(1 1.000)" text-anchor="middle" font-size="17.45" class="s">HOMO-LUMO gap (eV)</text>
<text transform="translate(63.10 308.47) scale(1 1.050)" text-anchor="end" font-size="17.45" class="s">1.0</text>
<text transform="translate(63.10 325.82) scale(1 1.050)" text-anchor="end" font-size="17.45" class="s">0.8</text>
<text transform="translate(63.10 343.17) scale(1 1.050)" text-anchor="end" font-size="17.45" class="s">0.6</text>
<text transform="translate(63.10 360.52) scale(1 1.050)" text-anchor="end" font-size="17.45" class="s">0.4</text>
<text transform="translate(63.10 377.87) scale(1 1.050)" text-anchor="end" font-size="17.45" class="s">0.2</text>
<text transform="translate(63.10 395.22) scale(1 1.050)" text-anchor="end" font-size="17.45" class="s">0.0</text>
<text transform="translate(63.10 412.57) scale(1 1.050)" text-anchor="end" font-size="17.45" class="s">-0.2</text>
<text transform="translate(63.10 429.92) scale(1 1.050)" text-anchor="end" font-size="17.45" class="s">-0.4</text>
<text transform="translate(63.10 447.27) scale(1 1.050)" text-anchor="end" font-size="17.45" class="s">-0.6</text>
<text transform="translate(63.10 464.62) scale(1 1.050)" text-anchor="end" font-size="17.45" class="s">-0.8</text>
<text transform="translate(63.10 481.97) scale(1 1.050)" text-anchor="end" font-size="17.45" class="s">-1.0</text>
<text transform="translate(63.10 499.32) scale(1 1.050)" text-anchor="end" font-size="17.45" class="s">-1.2</text>
<text transform="translate(63.10 516.67) scale(1 1.050)" text-anchor="end" font-size="17.45" class="s">-1.4</text>
<text transform="translate(75.75 543.00) scale(1 1.050)" text-anchor="middle" font-size="17.45" class="s">0</text>
<text transform="translate(157.12 543.00) scale(1 1.050)" text-anchor="middle" font-size="17.45" class="s">2</text>
<text transform="translate(238.50 543.00) scale(1 1.050)" text-anchor="middle" font-size="17.45" class="s">4</text>
<text transform="translate(319.88 543.00) scale(1 1.050)" text-anchor="middle" font-size="17.45" class="s">6</text>
<text transform="translate(401.25 543.00) scale(1 1.050)" text-anchor="middle" font-size="17.45" class="s">8</text>
<text transform="translate(236.20 560.30) scale(1 1.050)" text-anchor="middle" font-size="17.45" class="s">Hubbard U parameter (eV)</text>
<text transform="translate(21.70 406.50) rotate(-90) scale(1 1.000)" text-anchor="middle" font-size="17.45" class="s">(Energy - E<tspan font-size="13.8" dy="5.4">Fermi</tspan><tspan dy="-5.4">) (eV)</tspan></text>
<text transform="translate(432.60 326.90) scale(1.090 1)" font-size="22.0" class="a">e</text>
<text transform="translate(445.10 329.90) scale(1.000 1)" font-size="14.5" class="a">g</text>
<text transform="translate(432.60 351.70) scale(1.090 1)" font-size="22.0" class="a">b</text>
<text transform="translate(445.50 358.20) scale(1.000 1)" font-size="14.5" class="a">1</text>
<text transform="translate(453.60 358.20) scale(1.000 1)" font-size="14.5" class="a">g</text>
<text transform="translate(432.60 442.50) scale(1.090 1)" font-size="22.0" class="a">a</text>
<text transform="translate(445.50 449.00) scale(1.000 1)" font-size="14.5" class="a">1</text>
<text transform="translate(453.90 449.00) scale(1.000 1)" font-size="14.5" class="a">u</text>
<text transform="translate(432.60 476.20) scale(1.090 1)" font-size="22.0" class="a">b</text>
<text transform="translate(445.50 482.90) scale(1.000 1)" font-size="14.5" class="a">1</text>
<text transform="translate(453.60 482.90) scale(1.000 1)" font-size="14.5" class="a">g</text>
</g>
</svg>
</body></html>
